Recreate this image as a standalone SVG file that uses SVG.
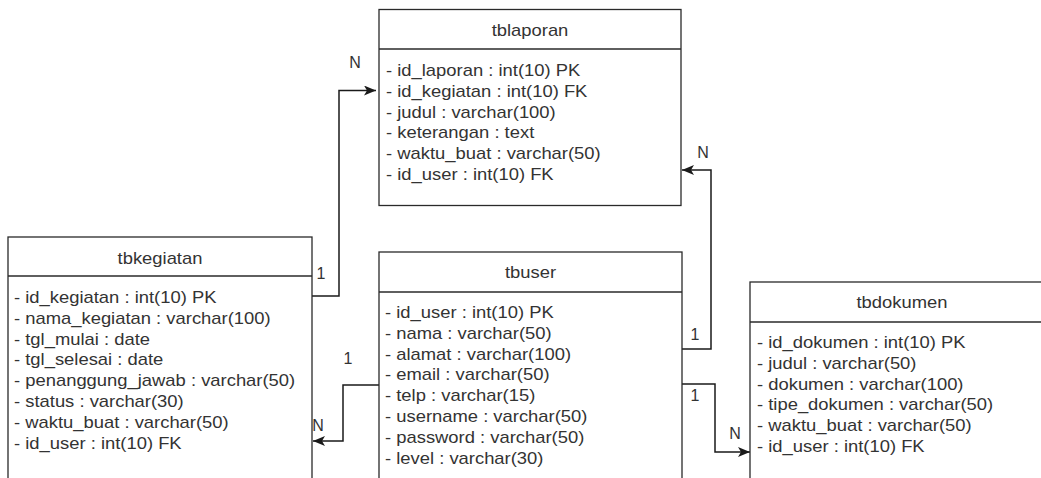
<svg xmlns="http://www.w3.org/2000/svg" width="1041" height="478" viewBox="0 0 1041 478">
<defs>
<style>
.box{fill:#fff;stroke:#2a2a2a;stroke-width:1.3}
.sep{stroke:#2a2a2a;stroke-width:1.3}
.t{font-family:"Liberation Sans",Arial,sans-serif;font-size:16px;fill:#333}
.ttl{font-family:"Liberation Sans",Arial,sans-serif;font-size:16px;fill:#333;text-anchor:middle}
.lbl{font-family:"Liberation Sans",Arial,sans-serif;font-size:16px;fill:#333;text-anchor:middle}
.edge{fill:none;stroke:#1a1a1a;stroke-width:1.5}
</style>
<marker id="arr" viewBox="0 0 12 10" refX="12" refY="5" markerWidth="12" markerHeight="10" markerUnits="userSpaceOnUse" orient="auto">
<path d="M0,0 L12,5 L0,10 L3,5 Z" fill="#1a1a1a"/>
</marker>
</defs>
<rect width="1041" height="478" fill="#fff"/>

<g id="connectors">
<path class="edge" d="M312,296 H339 V90.5 H376" marker-end="url(#arr)"/>
<path class="edge" d="M682,349 H711 V170 H682" marker-end="url(#arr)"/>
<path class="edge" d="M379,385 H343 V441 H313" marker-end="url(#arr)"/>
<path class="edge" d="M682,384 H715 V452 H750" marker-end="url(#arr)"/>
<text class="lbl" x="355" y="68">N</text>
<text class="lbl" x="321" y="279">1</text>
<text class="lbl" x="703" y="158">N</text>
<text class="lbl" x="695" y="340">1</text>
<text class="lbl" x="695" y="401">1</text>
<text class="lbl" x="735" y="439">N</text>
<text class="lbl" x="348" y="364">1</text>
<text class="lbl" x="318" y="431">N</text>
</g>

<g id="tblaporan">
<rect class="box" x="379" y="9.5" width="302" height="196"/>
<line class="sep" x1="379" y1="49" x2="681" y2="49"/>
<g transform="translate(530,0) scale(1.15,1)"><text class="ttl" x="0" y="36">tblaporan</text></g>
<g transform="translate(386,0) scale(1.15,1)">
<text class="t" x="0" y="76">- id_laporan : int(10) PK</text>
<text class="t" x="0" y="96.8">- id_kegiatan : int(10) FK</text>
<text class="t" x="0" y="117.6">- judul : varchar(100)</text>
<text class="t" x="0" y="138.4">- keterangan : text</text>
<text class="t" x="0" y="159.2">- waktu_buat : varchar(50)</text>
<text class="t" x="0" y="180">- id_user : int(10) FK</text>
</g>
</g>

<g id="tbkegiatan">
<rect class="box" x="8" y="237" width="304" height="260"/>
<line class="sep" x1="8" y1="276" x2="312" y2="276"/>
<g transform="translate(160,0) scale(1.15,1)"><text class="ttl" x="0" y="264">tbkegiatan</text></g>
<g transform="translate(14,0) scale(1.15,1)">
<text class="t" x="0" y="303">- id_kegiatan : int(10) PK</text>
<text class="t" x="0" y="323.8">- nama_kegiatan : varchar(100)</text>
<text class="t" x="0" y="344.6">- tgl_mulai : date</text>
<text class="t" x="0" y="365.4">- tgl_selesai : date</text>
<text class="t" x="0" y="386.2">- penanggung_jawab : varchar(50)</text>
<text class="t" x="0" y="407">- status : varchar(30)</text>
<text class="t" x="0" y="427.8">- waktu_buat : varchar(50)</text>
<text class="t" x="0" y="448.6">- id_user : int(10) FK</text>
</g>
</g>

<g id="tbuser">
<rect class="box" x="379" y="252" width="303" height="250"/>
<line class="sep" x1="379" y1="292" x2="682" y2="292"/>
<g transform="translate(530.5,0) scale(1.15,1)"><text class="ttl" x="0" y="278">tbuser</text></g>
<g transform="translate(385,0) scale(1.15,1)">
<text class="t" x="0" y="318">- id_user : int(10) PK</text>
<text class="t" x="0" y="338.8">- nama : varchar(50)</text>
<text class="t" x="0" y="359.6">- alamat : varchar(100)</text>
<text class="t" x="0" y="380.4">- email : varchar(50)</text>
<text class="t" x="0" y="401.2">- telp : varchar(15)</text>
<text class="t" x="0" y="422">- username : varchar(50)</text>
<text class="t" x="0" y="442.8">- password : varchar(50)</text>
<text class="t" x="0" y="463.6">- level : varchar(30)</text>
</g>
</g>

<g id="tbdokumen">
<rect class="box" x="750" y="282" width="304" height="220"/>
<line class="sep" x1="750" y1="322" x2="1054" y2="322"/>
<g transform="translate(902,0) scale(1.15,1)"><text class="ttl" x="0" y="308">tbdokumen</text></g>
<g transform="translate(757,0) scale(1.15,1)">
<text class="t" x="0" y="348">- id_dokumen : int(10) PK</text>
<text class="t" x="0" y="368.8">- judul : varchar(50)</text>
<text class="t" x="0" y="389.6">- dokumen : varchar(100)</text>
<text class="t" x="0" y="410.4">- tipe_dokumen : varchar(50)</text>
<text class="t" x="0" y="431.2">- waktu_buat : varchar(50)</text>
<text class="t" x="0" y="452">- id_user : int(10) FK</text>
</g>
</g>
</svg>
